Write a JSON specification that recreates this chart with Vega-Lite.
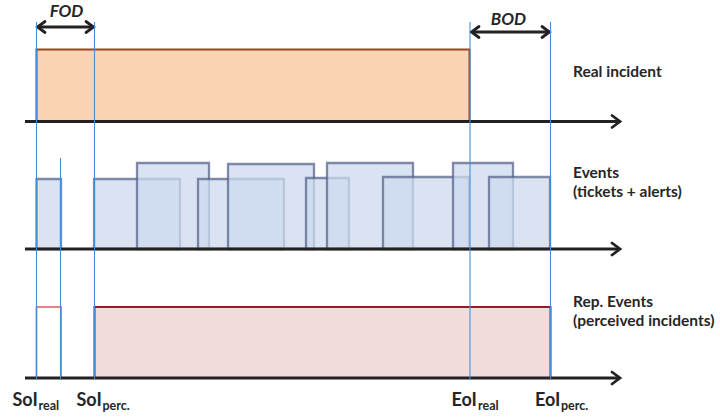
{
  "$schema": "https://vega.github.io/schema/vega-lite/v6.json",
  "width": 720,
  "height": 418,
  "autosize": {"type": "none"},
  "padding": 0,
  "background": "white",
  "config": {"view": {"stroke": null}},
  "datasets": {
    "boxes": [
      {"group": "incident", "x": 36.5, "x2": 469.5, "y": 49.5, "y2": 121.5},
      {"group": "event", "x": 36.5, "x2": 61, "y": 179, "y2": 249},
      {"group": "event", "x": 94, "x2": 180, "y": 179, "y2": 249},
      {"group": "event", "x": 137, "x2": 209, "y": 163, "y2": 249},
      {"group": "event", "x": 198, "x2": 284, "y": 179, "y2": 249},
      {"group": "event", "x": 228, "x2": 314, "y": 164, "y2": 249},
      {"group": "event", "x": 306, "x2": 349, "y": 178, "y2": 249},
      {"group": "event", "x": 327, "x2": 413, "y": 163, "y2": 249},
      {"group": "event", "x": 383, "x2": 469, "y": 177, "y2": 249},
      {"group": "event", "x": 453, "x2": 513, "y": 163, "y2": 249},
      {"group": "event", "x": 489, "x2": 550, "y": 177, "y2": 249},
      {"group": "rep_open", "x": 36.5, "x2": 61, "y": 307, "y2": 378},
      {"group": "rep", "x": 94.5, "x2": 550.5, "y": 307, "y2": 378}
    ],
    "markers": [
      {"x": 36.5, "y": 22, "y2": 380},
      {"x": 60.5, "y": 158, "y2": 380},
      {"x": 94.5, "y": 22, "y2": 380},
      {"x": 470, "y": 22, "y2": 380},
      {"x": 550.5, "y": 22, "y2": 380}
    ],
    "axes": [
      {"x": 25, "x2": 618, "y": 121.5},
      {"x": 25, "x2": 618, "y": 249},
      {"x": 25, "x2": 618, "y": 378},
      {"x": 39, "x2": 92, "y": 27},
      {"x": 473, "x2": 548, "y": 32}
    ],
    "heads": [
      {"id": "a1", "k": 1, "x": 612, "y": 115.5}, {"id": "a1", "k": 2, "x": 620, "y": 121.5}, {"id": "a1", "k": 3, "x": 612, "y": 127.5},
      {"id": "a2", "k": 1, "x": 612, "y": 243}, {"id": "a2", "k": 2, "x": 620, "y": 249}, {"id": "a2", "k": 3, "x": 612, "y": 255},
      {"id": "a3", "k": 1, "x": 612, "y": 372}, {"id": "a3", "k": 2, "x": 620, "y": 378}, {"id": "a3", "k": 3, "x": 612, "y": 384},
      {"id": "f1", "k": 1, "x": 45, "y": 21.5}, {"id": "f1", "k": 2, "x": 37.5, "y": 27}, {"id": "f1", "k": 3, "x": 45, "y": 32.5},
      {"id": "f2", "k": 1, "x": 86, "y": 21.5}, {"id": "f2", "k": 2, "x": 93.5, "y": 27}, {"id": "f2", "k": 3, "x": 86, "y": 32.5},
      {"id": "b1", "k": 1, "x": 479, "y": 26.5}, {"id": "b1", "k": 2, "x": 471.5, "y": 32}, {"id": "b1", "k": 3, "x": 479, "y": 37.5},
      {"id": "b2", "k": 1, "x": 542, "y": 26.5}, {"id": "b2", "k": 2, "x": 549.5, "y": 32}, {"id": "b2", "k": 3, "x": 542, "y": 37.5}
    ],
    "labels": [
      {"kind": "side", "text": "Real incident", "x": 573, "y": 77},
      {"kind": "side", "text": "Events", "x": 573, "y": 178},
      {"kind": "side", "text": "(tickets + alerts)", "x": 573, "y": 197},
      {"kind": "side", "text": "Rep. Events", "x": 573, "y": 307},
      {"kind": "side", "text": "(perceived incidents)", "x": 573, "y": 326},
      {"kind": "span", "text": "FOD", "x": 66.5, "y": 17},
      {"kind": "span", "text": "BOD", "x": 508.5, "y": 25},
      {"kind": "main", "text": "SoI", "x": 12.5, "y": 406},
      {"kind": "sub", "text": "real", "x": 38.5, "y": 410},
      {"kind": "main", "text": "SoI", "x": 76.5, "y": 406},
      {"kind": "sub", "text": "perc.", "x": 102.5, "y": 410},
      {"kind": "main", "text": "EoI", "x": 451.5, "y": 406},
      {"kind": "sub", "text": "real", "x": 478, "y": 410},
      {"kind": "main", "text": "EoI", "x": 535, "y": 406},
      {"kind": "sub", "text": "perc.", "x": 561, "y": 410}
    ]
  },
  "layer": [
    {
      "data": {"name": "boxes"},
      "transform": [{"filter": "datum.group === 'incident'"}],
      "mark": {"type": "rect", "fill": "#FAD3B3", "stroke": "#9A4620", "strokeWidth": 2},
      "encoding": {
        "x": {"field": "x", "type": "quantitative", "scale": {"domain": [0, 720], "nice": false, "zero": false}, "axis": null},
        "x2": {"field": "x2"},
        "y": {"field": "y", "type": "quantitative", "scale": {"domain": [0, 418], "nice": false, "zero": false, "reverse": true}, "axis": null},
        "y2": {"field": "y2"}
      }
    },
    {
      "data": {"name": "boxes"},
      "transform": [{"filter": "datum.group === 'event'"}],
      "mark": {"type": "rect", "fill": "#CCDAEE", "fillOpacity": 0.75, "stroke": "#4E5D86", "strokeOpacity": 0.7, "strokeWidth": 2.3},
      "encoding": {
        "x": {"field": "x", "type": "quantitative"},
        "x2": {"field": "x2"},
        "y": {"field": "y", "type": "quantitative"},
        "y2": {"field": "y2"}
      }
    },
    {
      "data": {"name": "boxes"},
      "transform": [{"filter": "datum.group === 'rep_open'"}],
      "mark": {"type": "rect", "fill": "white", "stroke": "#D2605C", "strokeWidth": 1.6},
      "encoding": {
        "x": {"field": "x", "type": "quantitative"},
        "x2": {"field": "x2"},
        "y": {"field": "y", "type": "quantitative"},
        "y2": {"field": "y2"}
      }
    },
    {
      "data": {"name": "boxes"},
      "transform": [{"filter": "datum.group === 'rep'"}],
      "mark": {"type": "rect", "fill": "#F2DCDB", "stroke": "#8E2222", "strokeWidth": 2},
      "encoding": {
        "x": {"field": "x", "type": "quantitative"},
        "x2": {"field": "x2"},
        "y": {"field": "y", "type": "quantitative"},
        "y2": {"field": "y2"}
      }
    },
    {
      "data": {"name": "axes"},
      "mark": {"type": "rule", "color": "#222222", "strokeWidth": 2.8},
      "encoding": {
        "x": {"field": "x", "type": "quantitative"},
        "x2": {"field": "x2"},
        "y": {"field": "y", "type": "quantitative"}
      }
    },
    {
      "data": {"name": "heads"},
      "mark": {"type": "line", "color": "#222222", "strokeWidth": 2.8, "strokeCap": "round", "strokeJoin": "miter"},
      "encoding": {
        "x": {"field": "x", "type": "quantitative"},
        "y": {"field": "y", "type": "quantitative"},
        "detail": {"field": "id", "type": "nominal"},
        "order": {"field": "k", "type": "quantitative"}
      }
    },
    {
      "data": {"name": "markers"},
      "mark": {"type": "rule", "color": "#4A8BD0", "strokeWidth": 1.1},
      "encoding": {
        "x": {"field": "x", "type": "quantitative"},
        "y": {"field": "y", "type": "quantitative"},
        "y2": {"field": "y2"}
      }
    },
    {
      "data": {"name": "labels"},
      "transform": [{"filter": "datum.kind === 'side'"}],
      "mark": {"type": "text", "align": "left", "baseline": "alphabetic", "font": "Lato", "fontWeight": "bold", "fontSize": 15.5, "color": "#262626"},
      "encoding": {
        "x": {"field": "x", "type": "quantitative"},
        "y": {"field": "y", "type": "quantitative"},
        "text": {"field": "text"}
      }
    },
    {
      "data": {"name": "labels"},
      "transform": [{"filter": "datum.kind === 'span'"}],
      "mark": {"type": "text", "align": "center", "baseline": "alphabetic", "font": "Lato", "fontWeight": "bold", "fontStyle": "italic", "fontSize": 17, "color": "#262626"},
      "encoding": {
        "x": {"field": "x", "type": "quantitative"},
        "y": {"field": "y", "type": "quantitative"},
        "text": {"field": "text"}
      }
    },
    {
      "data": {"name": "labels"},
      "transform": [{"filter": "datum.kind === 'main'"}],
      "mark": {"type": "text", "align": "left", "baseline": "alphabetic", "font": "Lato", "fontWeight": "bold", "fontSize": 18, "color": "#262626"},
      "encoding": {
        "x": {"field": "x", "type": "quantitative"},
        "y": {"field": "y", "type": "quantitative"},
        "text": {"field": "text"}
      }
    },
    {
      "data": {"name": "labels"},
      "transform": [{"filter": "datum.kind === 'sub'"}],
      "mark": {"type": "text", "align": "left", "baseline": "alphabetic", "font": "Lato", "fontWeight": "bold", "fontSize": 12.5, "color": "#262626"},
      "encoding": {
        "x": {"field": "x", "type": "quantitative"},
        "y": {"field": "y", "type": "quantitative"},
        "text": {"field": "text"}
      }
    }
  ]
}
